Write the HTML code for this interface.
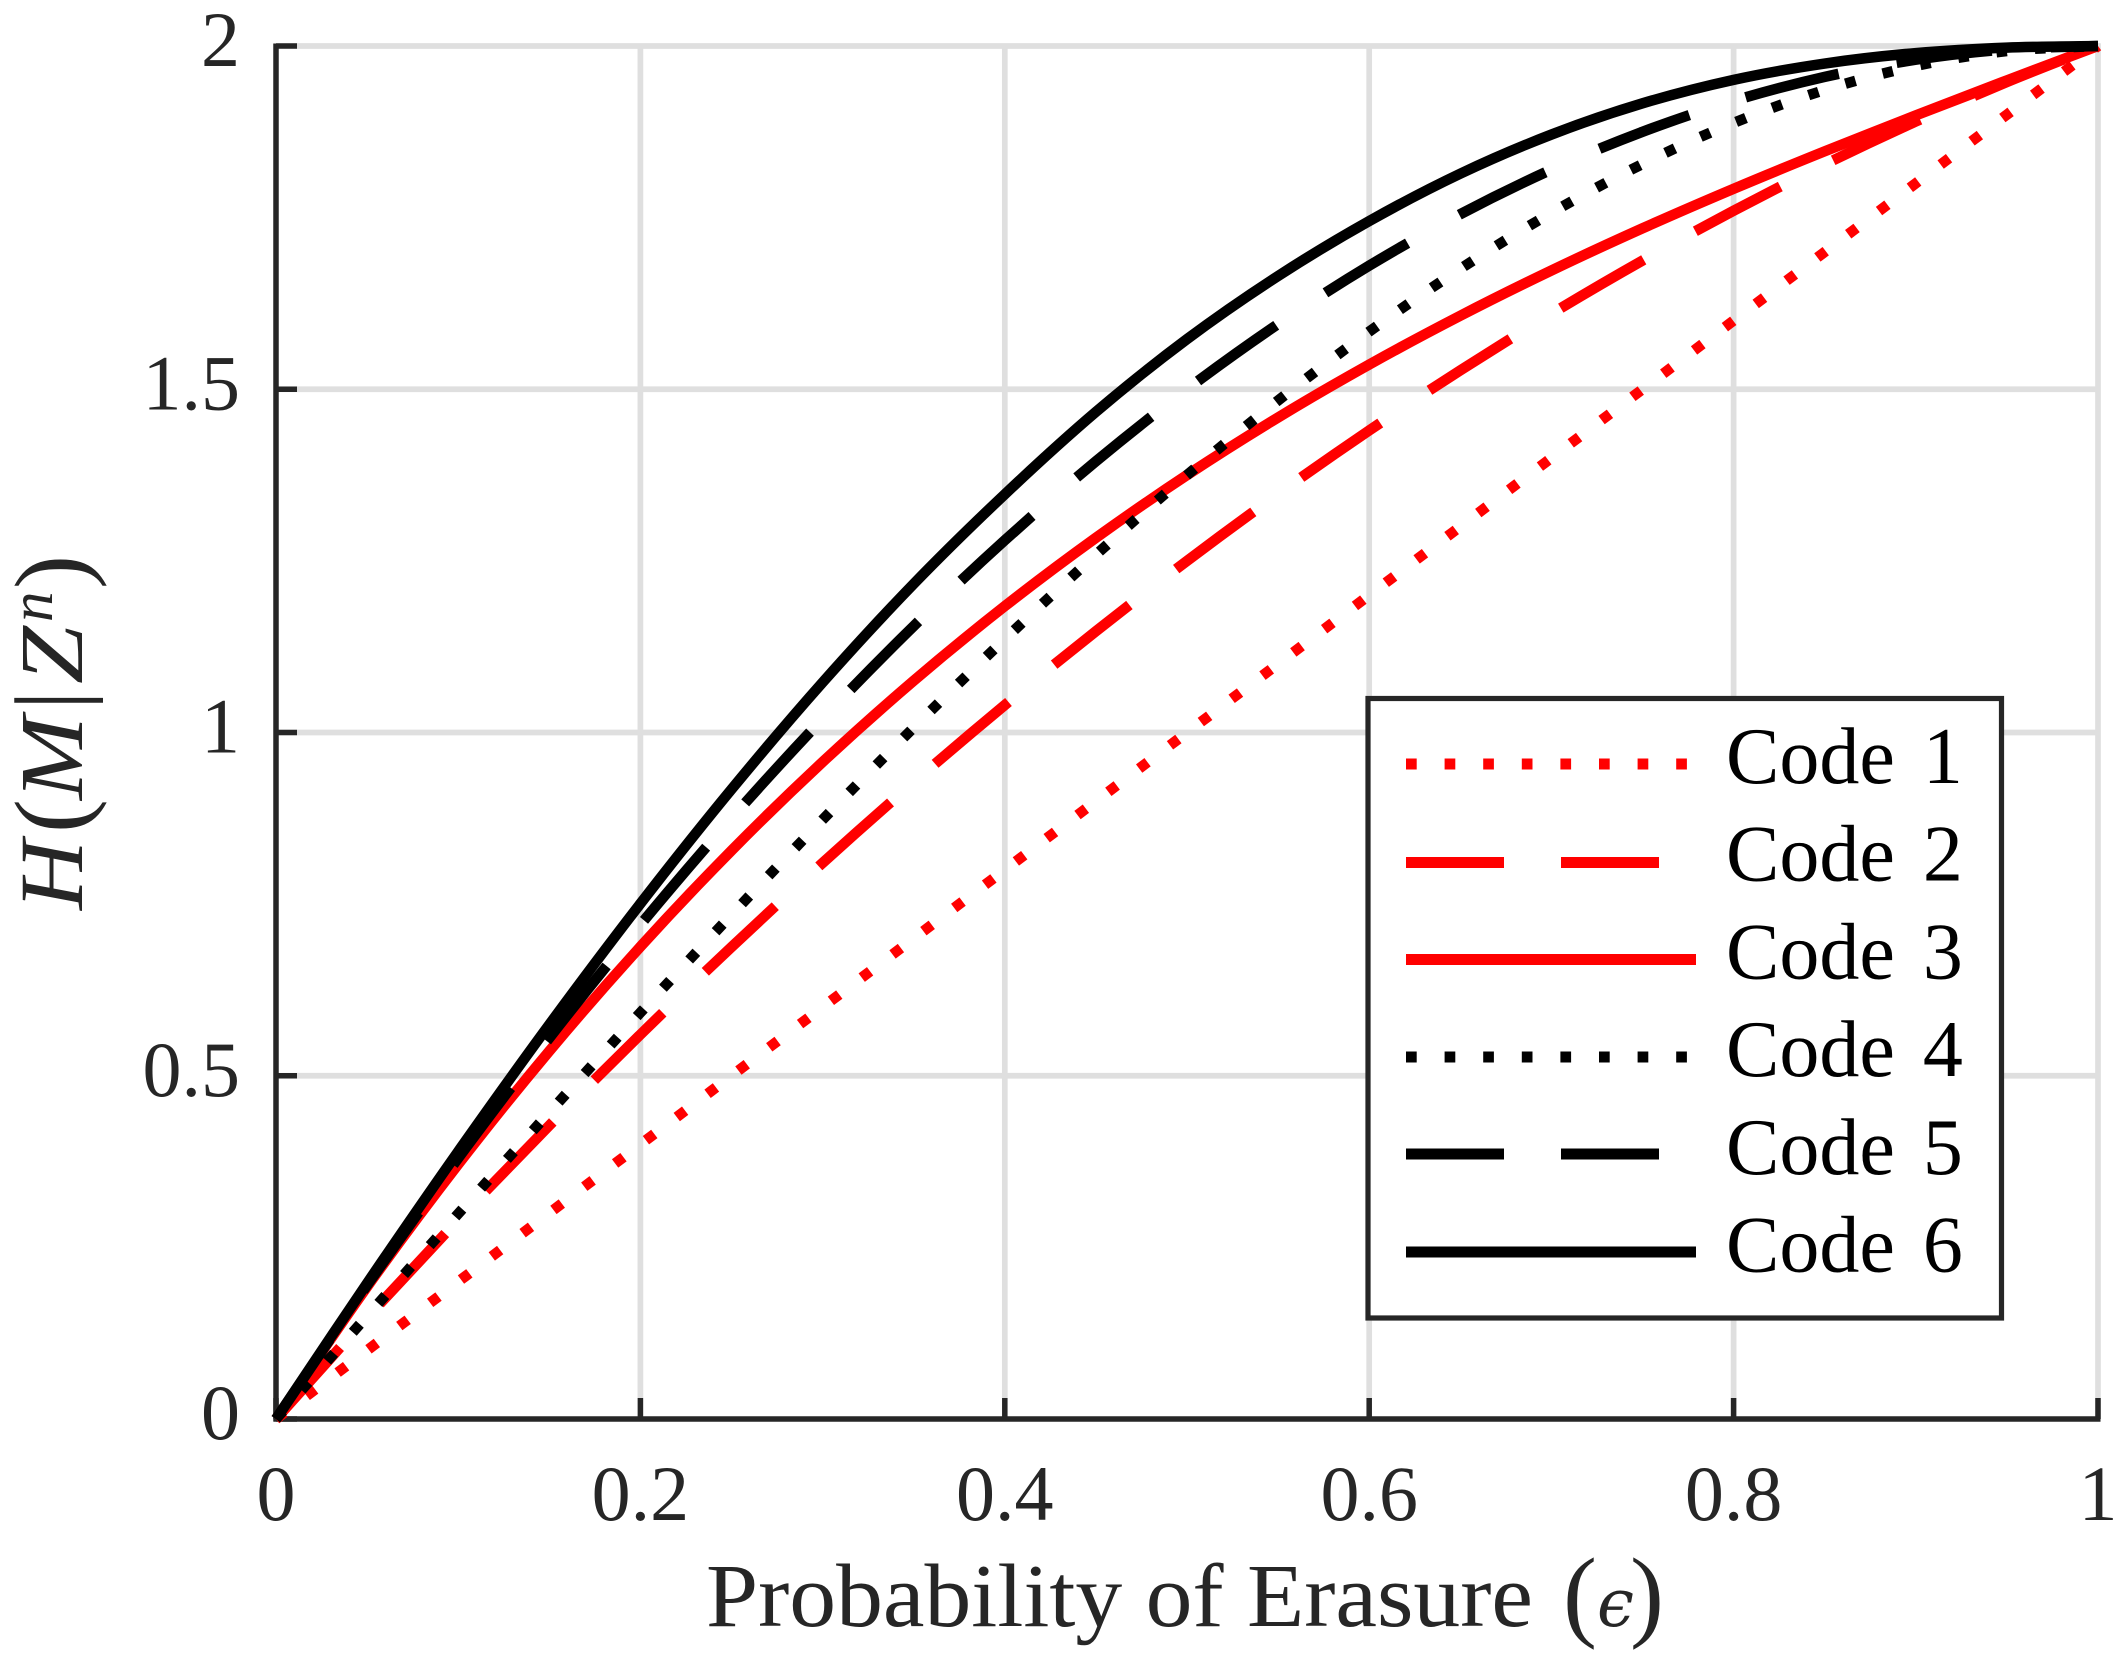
<!DOCTYPE html>
<html lang="en">
<head>
<meta charset="utf-8">
<title>Equivocation vs probability of erasure</title>
<style>
  html, body { margin: 0; padding: 0; background: #fff; }
  svg { display: block; }
  text { font-family: "Liberation Serif", serif; }
</style>
</head>
<body>
<svg id="chart" xmlns="http://www.w3.org/2000/svg" width="2127" height="1663" viewBox="0 0 2127 1663">
  <rect x="0" y="0" width="2127" height="1663" fill="#ffffff"/>
  <g id="grid"></g>
  <g id="axes"></g>
  <g id="tick-labels"></g>
  <g id="series"></g>

  <g fill="#262626">
    <text x="706" y="1626" font-size="90" textLength="827" lengthAdjust="spacingAndGlyphs">Probability of Erasure</text>
    <text x="1563" y="1628" font-size="102">(</text>
    <text x="1597" y="1626" font-size="66" font-style="italic" style="font-family:'DejaVu Serif',serif">ϵ</text>
    <text x="1630" y="1628" font-size="102">)</text>
  </g>

  <g fill="#262626">
    <text transform="translate(82,910) rotate(-90)" font-size="90" font-style="italic" textLength="70" lengthAdjust="spacingAndGlyphs">H</text>
    <text transform="translate(85,833) rotate(-90)" font-size="102">(</text>
    <text transform="translate(82,800) rotate(-90)" font-size="90" font-style="italic" textLength="84" lengthAdjust="spacingAndGlyphs">M</text>
    <text transform="translate(82,710) rotate(-90)" font-size="97">|</text>
    <text transform="translate(82,684) rotate(-90)" font-size="90" font-style="italic" textLength="58" lengthAdjust="spacingAndGlyphs">Z</text>
    <text transform="translate(52,622) rotate(-90)" font-size="61" font-style="italic">n</text>
    <text transform="translate(85,589) rotate(-90)" font-size="102">)</text>
  </g>

  <g>
    <rect x="1368" y="698.5" width="633.5" height="619.5" fill="#ffffff" stroke="#262626" stroke-width="5.2"/>

    <line x1="1406" x2="1696" y1="764" y2="764" stroke="#ff0000" stroke-width="11" stroke-dasharray="10.7 27.9"/>
    <text x="1726" y="783" font-size="80" word-spacing="8" fill="#000">Code 1</text>

    <line x1="1406" x2="1696" y1="862.5" y2="862.5" stroke="#ff0000" stroke-width="11" stroke-dasharray="98 57"/>
    <text x="1726" y="880.7" font-size="80" word-spacing="8" fill="#000">Code 2</text>

    <line x1="1406" x2="1696" y1="959.5" y2="959.5" stroke="#ff0000" stroke-width="11"/>
    <text x="1726" y="978.4" font-size="80" word-spacing="8" fill="#000">Code 3</text>

    <line x1="1406" x2="1696" y1="1057" y2="1057" stroke="#000000" stroke-width="11" stroke-dasharray="10.7 27.9"/>
    <text x="1726" y="1076.1" font-size="80" word-spacing="8" fill="#000">Code 4</text>

    <line x1="1406" x2="1696" y1="1154" y2="1154" stroke="#000000" stroke-width="11" stroke-dasharray="98 57"/>
    <text x="1726" y="1173.8" font-size="80" word-spacing="8" fill="#000">Code 5</text>

    <line x1="1406" x2="1696" y1="1252" y2="1252" stroke="#000000" stroke-width="11"/>
    <text x="1726" y="1271.5" font-size="80" word-spacing="8" fill="#000">Code 6</text>
  </g>
</svg>

<script>
const xValues = [0, 0.05, 0.1, 0.15, 0.2, 0.25, 0.3, 0.35, 0.4, 0.45, 0.5, 0.55, 0.6, 0.65, 0.7, 0.75, 0.8, 0.85, 0.9, 0.95, 1];
const code1 = [0, 0.1, 0.2, 0.3, 0.4, 0.5, 0.6, 0.7, 0.8, 0.9, 1, 1.1, 1.2, 1.3, 1.4, 1.5, 1.6, 1.7, 1.8, 1.9, 2];
const code2 = [0, 0.1475, 0.29, 0.4275, 0.56, 0.6875, 0.81, 0.9275, 1.04, 1.1475, 1.25, 1.3475, 1.44, 1.5275, 1.61, 1.6875, 1.76, 1.8275, 1.89, 1.9475, 2];
const code3 = [0, 0.1926, 0.371, 0.5359, 0.688, 0.8281, 0.957, 1.0754, 1.184, 1.2836, 1.375, 1.4589, 1.536, 1.6071, 1.673, 1.7344, 1.792, 1.8466, 1.899, 1.9499, 2];
const code4 = [0, 0.1499, 0.299, 0.4466, 0.592, 0.7344, 0.873, 1.0071, 1.136, 1.2589, 1.375, 1.4836, 1.584, 1.6754, 1.757, 1.8281, 1.888, 1.9359, 1.971, 1.9926, 2];
const code5 = [0, 0.195, 0.38, 0.555, 0.72, 0.875, 1.02, 1.155, 1.28, 1.395, 1.5, 1.595, 1.68, 1.755, 1.82, 1.875, 1.92, 1.955, 1.98, 1.995, 2];
const code6 = [0, 0.1977, 0.3897, 0.5745, 0.7507, 0.9172, 1.0729, 1.2165, 1.347, 1.467, 1.573, 1.665, 1.745, 1.814, 1.871, 1.9165, 1.9507, 1.9745, 1.9897, 1.9977, 2];
const xTicks = [0, 0.2, 0.4, 0.6, 0.8, 1];
const xTickLabels = ['0', '0.2', '0.4', '0.6', '0.8', '1'];
const yTicks = [0, 0.5, 1, 1.5, 2];
const yTickLabels = ['0', '0.5', '1', '1.5', '2'];

const NS = 'http://www.w3.org/2000/svg';
const plotLeft = 276, plotRight = 2098, plotBottom = 1419, plotTop = 46;
const xDomainMax = 1, yDomainMax = 2;
function xScale(v) { return plotLeft + (v / xDomainMax) * (plotRight - plotLeft); }
function yScale(v) { return plotBottom - (v / yDomainMax) * (plotBottom - plotTop); }

function makeLine(x1, y1, x2, y2, color, width) {
  const el = document.createElementNS(NS, 'line');
  el.setAttribute('x1', x1);
  el.setAttribute('y1', y1);
  el.setAttribute('x2', x2);
  el.setAttribute('y2', y2);
  el.setAttribute('stroke', color);
  el.setAttribute('stroke-width', width);
  return el;
}
function makeText(x, y, str, anchor) {
  const el = document.createElementNS(NS, 'text');
  el.setAttribute('x', x);
  el.setAttribute('y', y);
  el.setAttribute('font-size', 78);
  el.setAttribute('fill', '#262626');
  el.setAttribute('text-anchor', anchor);
  el.textContent = str;
  return el;
}

const gridGroup = document.getElementById('grid');
const axesGroup = document.getElementById('axes');
const labelGroup = document.getElementById('tick-labels');
const seriesGroup = document.getElementById('series');

xTicks.forEach(function (t, i) {
  const px = xScale(t);
  if (t !== 0) {
    const g = makeLine(px, plotTop - 2.5, px, plotBottom, '#dfdfdf', 5.7);
    
    
    gridGroup.appendChild(g);
  }
  const tick = makeLine(px, plotBottom, px, plotBottom - 21, '#262626', 5.5);
  
  
  axesGroup.appendChild(tick);
  const label = makeText(px, 1520, xTickLabels[i], 'middle');
  
  
  labelGroup.appendChild(label);
});

yTicks.forEach(function (t, i) {
  const py = yScale(t);
  if (t !== 0) {
    const g = makeLine(plotLeft, py, plotRight + 2.5, py, '#dfdfdf', 5.7);
    
    
    gridGroup.appendChild(g);
  }
  const tick = makeLine(plotLeft, py, plotLeft + 21, py, '#262626', 5.5);
  
  
  axesGroup.appendChild(tick);
  const label = makeText(240, py + 20, yTickLabels[i], 'end');
  
  
  labelGroup.appendChild(label);
});

const xAxisLine = makeLine(plotLeft - 2.5, plotBottom, plotRight + 2.5, plotBottom, '#262626', 5.5);


axesGroup.appendChild(xAxisLine);

const yAxisLine = makeLine(plotLeft, plotTop - 2.5, plotLeft, plotBottom + 2.5, '#262626', 5.5);


axesGroup.appendChild(yAxisLine);

function drawSeries(values, color, dash, name) {
  const pts = values.map(function (v, i) { return [xScale(xValues[i]), yScale(v)]; });
  let d = 'M' + pts[0][0].toFixed(2) + ' ' + pts[0][1].toFixed(2);
  for (let i = 0; i < pts.length - 1; i++) {
    const p0 = pts[Math.max(i - 1, 0)];
    const p1 = pts[i];
    const p2 = pts[i + 1];
    const p3 = pts[Math.min(i + 2, pts.length - 1)];
    const c1x = p1[0] + (p2[0] - p0[0]) / 6;
    const c1y = p1[1] + (p2[1] - p0[1]) / 6;
    const c2x = p2[0] - (p3[0] - p1[0]) / 6;
    const c2y = p2[1] - (p3[1] - p1[1]) / 6;
    d += 'C' + c1x.toFixed(2) + ' ' + c1y.toFixed(2) + ' ' + c2x.toFixed(2) + ' ' + c2y.toFixed(2) + ' ' + p2[0].toFixed(2) + ' ' + p2[1].toFixed(2);
  }
  const path = document.createElementNS(NS, 'path');
  path.setAttribute('d', d);
  path.setAttribute('fill', 'none');
  path.setAttribute('stroke', color);
  path.setAttribute('stroke-width', 10.5);
  path.setAttribute('stroke-linejoin', 'round');
  if (dash) path.setAttribute('stroke-dasharray', dash);
  
  
  seriesGroup.appendChild(path);
}

drawSeries(code1, '#ff0000', '10.5 28.1', 'series-code-1');
drawSeries(code2, '#ff0000', '96 59', 'series-code-2');
drawSeries(code3, '#ff0000', '', 'series-code-3');
drawSeries(code4, '#000000', '10.5 28.1', 'series-code-4');
drawSeries(code5, '#000000', '96 59', 'series-code-5');
drawSeries(code6, '#000000', '', 'series-code-6');
</script>
</body>
</html>
